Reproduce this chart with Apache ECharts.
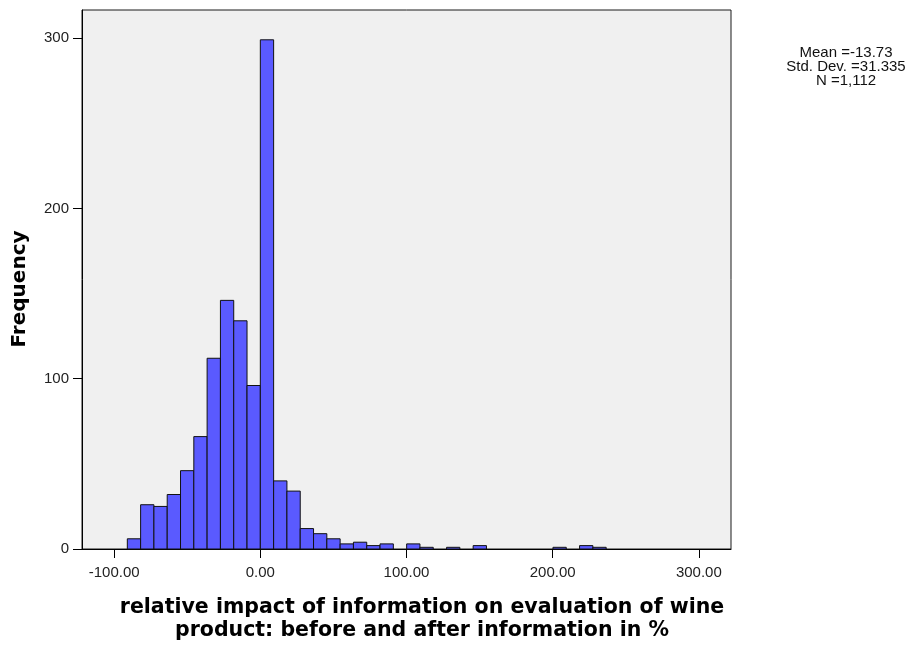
<!DOCTYPE html>
<html>
<head>
<meta charset="utf-8">
<script src="https://cdn.jsdelivr.net/npm/echarts@6/dist/echarts.min.js"></script>
<style>
html,body{margin:0;padding:0;background:#fff;}
#chart{width:917px;height:645px;}
</style>
</head>
<body>
<div id="chart"></div>
<script>
// Histogram bins (left edges, width) and frequencies
const binLeftEdges = [-91.0, -81.9, -72.8, -63.7, -54.6, -45.5, -36.4, -27.3, -18.2, -9.1,
  0.0, 9.1, 18.2, 27.3, 36.4, 45.5, 54.6, 63.7, 72.8, 81.9, 91.0, 100.1, 109.2, 118.3,
  127.4, 136.5, 145.6, 154.7, 163.8, 172.9, 182.0, 191.1, 200.2, 209.3, 218.4, 227.5];
const binWidth = 9.1;
const frequencies = [6, 26, 25, 32, 46, 66, 112, 146, 134, 96,
  299, 40, 34, 12, 9, 6, 3, 4, 2, 3, 0, 3, 1, 0,
  1, 0, 2, 0, 0, 0, 0, 0, 1, 0, 2, 1];
const xTickValues = [-100, 0, 100, 200, 300];
const yTickValues = [0, 100, 200, 300];
const statsLines = ['Mean =-13.73', 'Std. Dev. =31.335', 'N =1,112'];
const xTitle = 'relative impact of information on evaluation of wine\nproduct: before and after information in %';
const yTitle = 'Frequency';

const data = binLeftEdges.map((e, i) => [e, e + binWidth, frequencies[i]]).filter(d => d[2] > 0);

const chart = echarts.init(document.getElementById('chart'), null, {renderer: 'canvas'});
chart.setOption({
  animation: false,
  backgroundColor: '#ffffff',
  grid: {
    left: 82, top: 10, right: 186, bottom: 96,
    show: true, backgroundColor: '#f0f0f0', borderColor: '#1a1a1a', borderWidth: 1
  },
  xAxis: {
    type: 'value', min: -122, max: 322,
    splitLine: {show: false},
    axisLine: {show: true, onZero: false, lineStyle: {color: '#000', width: 1}},
    axisTick: {show: true, length: 9, customValues: xTickValues, lineStyle: {color: '#000'}},
    axisLabel: {
      customValues: xTickValues, color: '#222', fontFamily: 'Liberation Sans, Arial', fontSize: 15, margin: 16,
      formatter: v => v.toFixed(2)
    }
  },
  yAxis: {
    type: 'value', min: 0, max: 316.5,
    splitLine: {show: false},
    axisLine: {show: true, onZero: false, lineStyle: {color: '#000', width: 1}},
    axisTick: {show: true, length: 9, customValues: yTickValues, lineStyle: {color: '#000'}},
    axisLabel: {customValues: yTickValues, color: '#222', fontFamily: 'Liberation Sans, Arial', fontSize: 15, margin: 13}
  },
  graphic: [{
    type: 'text', x: 846, y: 46,
    style: {
      text: statsLines.join('\n'), fill: '#111', font: '15px "Liberation Sans", Arial',
      align: 'center', verticalAlign: 'top', lineHeight: 14
    }
  }, {
    type: 'text', x: 422, y: 596,
    style: {
      text: xTitle, fill: '#000', font: 'bold 20.5px "DejaVu Sans"',
      align: 'center', verticalAlign: 'top', lineHeight: 23
    }
  }, {
    type: 'text', x: 20, y: 289, rotation: Math.PI / 2,
    style: {
      text: yTitle, fill: '#000', font: 'bold 20px "DejaVu Sans"',
      align: 'center', verticalAlign: 'middle'
    }
  }],
  series: [{
    type: 'custom',
    data: data,
    encode: {x: [0, 1], y: 2},
    renderItem: function (params, api) {
      const p0 = api.coord([api.value(0), 0]);
      const p1 = api.coord([api.value(1), api.value(2)]);
      return {
        type: 'rect',
        shape: {x: p0[0], y: p1[1], width: p1[0] - p0[0], height: p0[1] - p1[1]},
        style: {fill: '#5a5aff', stroke: '#111', lineWidth: 1}
      };
    }
  }]
});
</script>
</body>
</html>
